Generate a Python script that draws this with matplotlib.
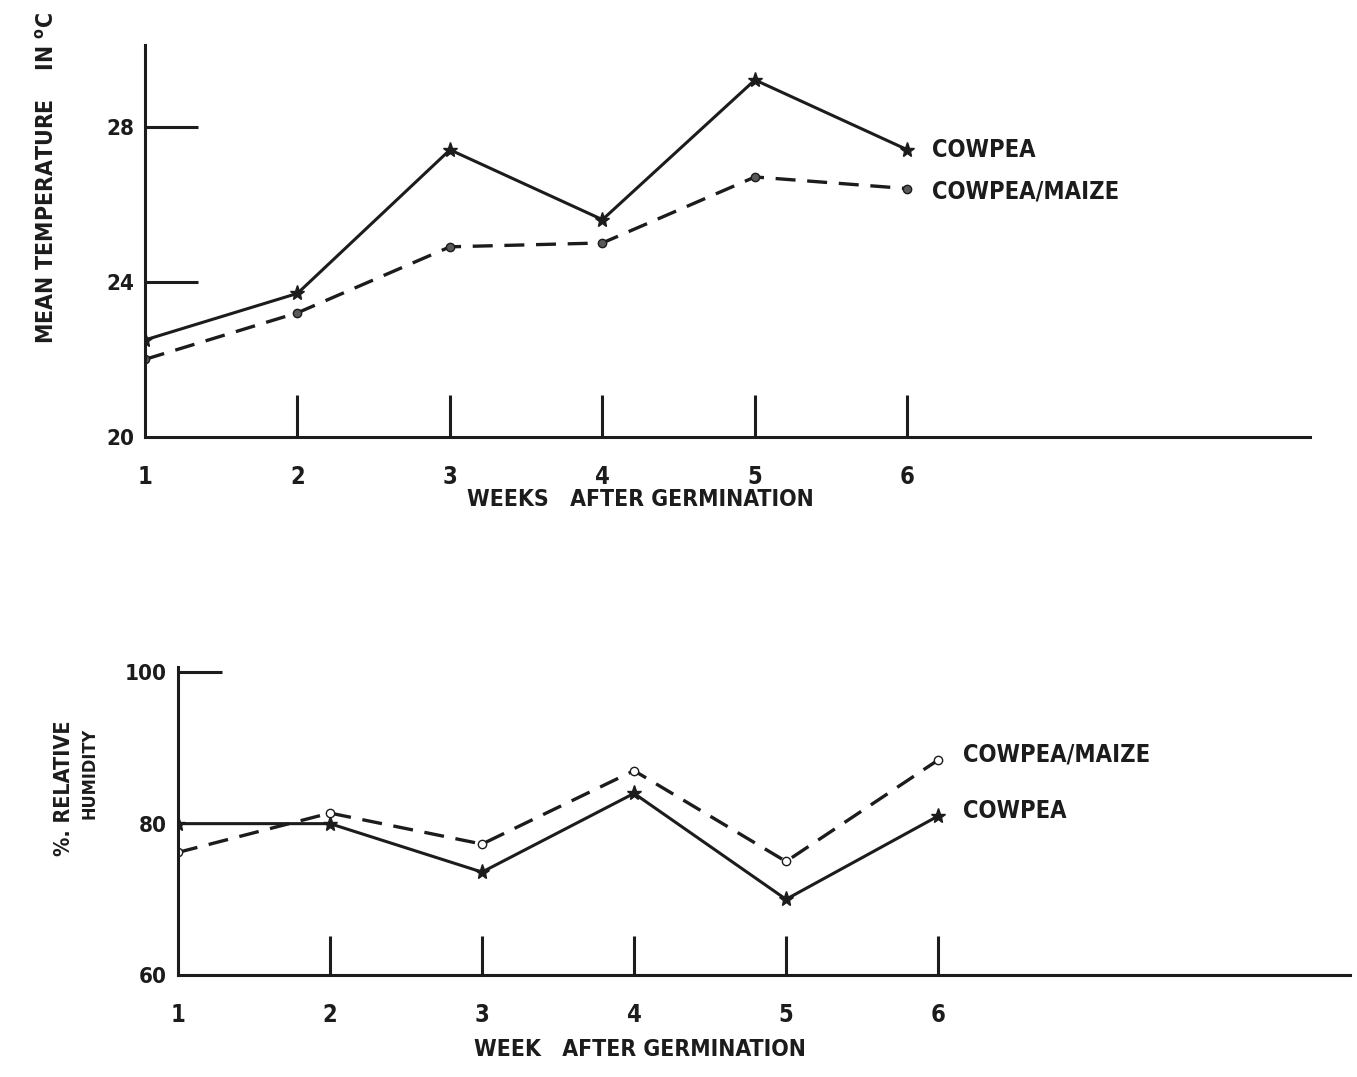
import matplotlib.pyplot as plt

# data
weeks = [1, 2, 3, 4, 5, 6]
week_labels = ['1', '2', '3', '4', '5', '6']

temp_cowpea = [22.5, 23.7, 27.4, 25.6, 29.2, 27.4]
temp_mixed = [22.0, 23.2, 24.9, 25.0, 26.7, 26.4]

rh_cowpea = [80.0, 80.0, 73.6, 84.0, 70.0, 81.0]
rh_mixed = [76.2, 81.4, 77.3, 87.0, 75.0, 88.4]

temp_ticks = [20, 24, 28]
rh_ticks = [60, 80, 100]

INK = '#1c1c1c'
plt.rcParams['font.family'] = ['DejaVu Sans']
plt.rcParams['font.stretch'] = 'condensed'
plt.rcParams['font.weight'] = 'bold'

W, H = 1357, 1077
fig = plt.figure(figsize=(W / 100, H / 100), dpi=100)


def style_axes(ax, yticks, ytick_lines, xlen, ylen):
    for s in ['top', 'right']:
        ax.spines[s].set_visible(False)
    for s in ['left', 'bottom']:
        ax.spines[s].set_linewidth(2.2)
        ax.spines[s].set_color(INK)
    ax.set_xticks(weeks)
    ax.set_xticklabels(week_labels)
    ax.set_yticks(yticks)
    ax.set_yticklabels([str(t) for t in yticks])
    ax.tick_params(axis='x', direction='in', length=xlen, width=2.2,
                   color=INK, labelsize=17, pad=20, labelcolor=INK)
    ax.tick_params(axis='y', direction='in', length=ylen, width=2.2,
                   color=INK, labelsize=16, pad=8, labelcolor=INK)
    # first week has no tick mark
    ax.xaxis.get_major_ticks()[0].tick1line.set_visible(False)
    for t, v in zip(ax.yaxis.get_major_ticks(), yticks):
        if v not in ytick_lines:
            t.tick1line.set_visible(False)


# ---- top panel: temperature ----
ax1 = fig.add_axes([145 / W, 1 - 437 / H, (1310 - 145) / W, (437 - 45) / H])
ax1.plot(weeks, temp_cowpea, color=INK, lw=2.2, marker='*', ms=11,
         mfc=INK, mec=INK)
ax1.plot(weeks, temp_mixed, color=INK, lw=2.4, ls=(0, (6, 3.5)), marker='o',
         ms=6, mfc='0.35', mec=INK)
ax1.set_xlim(1, 8.64)
ax1.set_ylim(20, 30.1)
style_axes(ax1, temp_ticks, [24, 28], 30, 38)

ax1.annotate('COWPEA', xy=(weeks[-1], temp_cowpea[-1]), xytext=(18, 0),
             textcoords='offset points', va='center', ha='left',
             fontsize=17, color=INK)
ax1.annotate('COWPEA/MAIZE', xy=(weeks[-1], temp_mixed[-1]), xytext=(18, -2),
             textcoords='offset points', va='center', ha='left',
             fontsize=17, color=INK)

fig.text(640 / W, 1 - 500 / H, 'WEEKS   AFTER GERMINATION', ha='center',
         va='center', fontsize=16.5, color=INK)
fig.text(48 / W, 1 - 178 / H, 'MEAN TEMPERATURE    IN $^{\\mathregular{o}}$C',
         rotation=90, ha='center', va='center', fontsize=16.5, color=INK)

# ---- bottom panel: relative humidity ----
ax2 = fig.add_axes([178 / W, 1 - 975 / H, (1350 - 178) / W, (975 - 667) / H])
ax2.plot(weeks, rh_cowpea, color=INK, lw=2.2, marker='*', ms=11,
         mfc=INK, mec=INK)
ax2.plot(weeks, rh_mixed, color=INK, lw=2.4, ls=(0, (6, 3.5)), marker='o',
         ms=6, mfc='white', mec=INK)
ax2.set_xlim(1, 8.71)
ax2.set_ylim(60, 100.7)
style_axes(ax2, rh_ticks, [100], 28, 32)

ax2.annotate('COWPEA/MAIZE', xy=(weeks[-1], rh_mixed[-1]), xytext=(18, 4),
             textcoords='offset points', va='center', ha='left',
             fontsize=17, color=INK)
ax2.annotate('COWPEA', xy=(weeks[-1], rh_cowpea[-1]), xytext=(18, 4),
             textcoords='offset points', va='center', ha='left',
             fontsize=17, color=INK)

fig.text(640 / W, 1 - 1050 / H, 'WEEK   AFTER GERMINATION', ha='center',
         va='center', fontsize=16.5, color=INK)
fig.text(64 / W, 1 - 720 / H, '%. RELATIVE', rotation=90, ha='center',
         va='top', fontsize=15.5, color=INK)
fig.text(90 / W, 1 - 728 / H, 'HUMIDITY', rotation=90, ha='center',
         va='top', fontsize=13, color=INK)

fig.savefig('out.png', dpi=100)
